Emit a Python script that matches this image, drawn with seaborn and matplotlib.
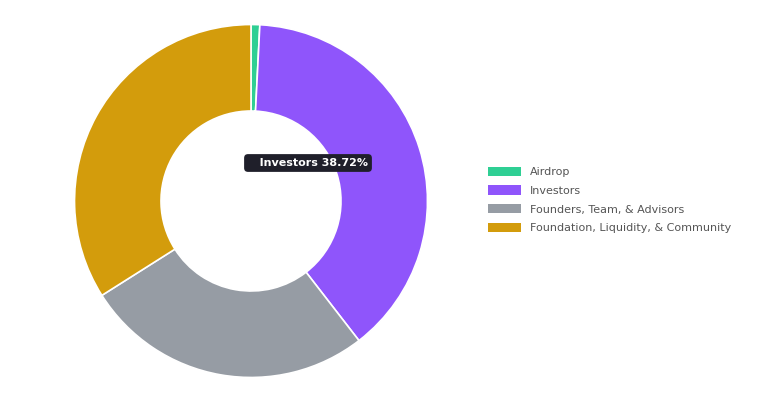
import matplotlib
matplotlib.use("Agg")
import matplotlib.pyplot as plt
import seaborn as sns
from matplotlib.patches import Patch

sns.set_theme(style="white")
plt.rcParams['font.family'] = ['DejaVu Sans']

labels = ["Airdrop", "Investors", "Founders, Team, & Advisors", "Foundation, Liquidity, & Community"]
values = [0.8, 38.72, 26.5, 33.98]
colors = ["#2fcf94", "#8f55fb", "#969ca4", "#d39c0c"]

fig = plt.figure(figsize=(7.59, 4.17), dpi=100)
ax = fig.add_axes([251/759 - 180/759, (417-201-180)/417, 360/759, 360/417])
ax.pie(values, colors=colors, startangle=90, counterclock=False,
       wedgeprops=dict(width=0.49, edgecolor="white", linewidth=1.2))
ax.set_aspect("equal")
ax.set_xlim(-1.02, 1.02); ax.set_ylim(-1.02, 1.02)

# tooltip
fig.text(308/759, 1 - 163/417, "   Investors 38.72%", color="white", fontsize=8, ha="center", va="center",
         fontweight="bold",
         bbox=dict(boxstyle="round,pad=0.35", fc="#1f1f2a", ec="none"))
fig.patches.append(plt.Rectangle((253/759, 1 - 169/417), 11/759, 11/417, transform=fig.transFigure,
                                 fc="#8f55fb", ec="white", lw=1))

handles = [Patch(facecolor=c, edgecolor="none", label=l) for l, c in zip(labels, colors)]
fig.legend(handles=handles, loc="center left", bbox_to_anchor=(478/759, 1 - 200/417), frameon=False,
           fontsize=8, labelcolor="#555555", handlelength=3.0, handleheight=0.9, labelspacing=0.75)
fig.savefig("out.png", dpi=100, facecolor="white")
